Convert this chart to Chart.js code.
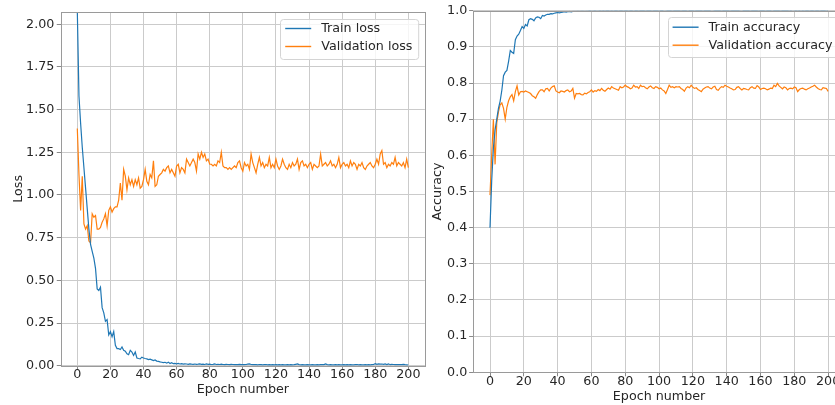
<!DOCTYPE html>
<html>
<head>
<meta charset="utf-8">
<script src="https://cdn.jsdelivr.net/npm/chart.js@4.4.1/dist/chart.umd.min.js"></script>
<style>
  html, body { margin: 0; padding: 0; background: #fff; }
  #wrap { position: relative; width: 835px; height: 405px; overflow: hidden; }
  #lossChart { position: absolute; left: 0; top: 0; }
  #accChart { position: absolute; left: 425px; top: 0; }
</style>
</head>
<body>
<div id="wrap">
  <canvas id="lossChart" width="430" height="405"></canvas>
  <canvas id="accChart" width="425" height="405"></canvas>
</div>
<script>
// values per epoch (0..200)
const trainLoss = [
  2.08, 1.58, 1.42, 1.28, 1.16, 1.04, 0.92, 0.80, 0.71, 0.67, 0.63,
  0.57, 0.45, 0.44, 0.46, 0.34, 0.31, 0.26, 0.27, 0.18, 0.20,
  0.17, 0.20, 0.12, 0.10, 0.10, 0.095, 0.11, 0.09, 0.085, 0.07,
  0.065, 0.09, 0.08, 0.06, 0.08, 0.045, 0.042, 0.04, 0.05, 0.045,
  0.042, 0.04, 0.036, 0.038, 0.034, 0.03, 0.034, 0.027, 0.025, 0.022,
  0.02, 0.018, 0.02, 0.015, 0.021, 0.013, 0.018, 0.012, 0.014, 0.011,
  0.013, 0.010, 0.012, 0.009, 0.011, 0.010, 0.008, 0.011, 0.009, 0.008,
  0.010, 0.008, 0.009, 0.011, 0.008, 0.009, 0.007, 0.010, 0.008, 0.009,
  0.007, 0.008, 0.010, 0.007, 0.008, 0.007, 0.009, 0.007, 0.006, 0.008,
  0.007, 0.006, 0.008, 0.007, 0.006, 0.007, 0.006, 0.008, 0.006, 0.007,
  0.006, 0.007, 0.009, 0.011, 0.007, 0.006, 0.007, 0.006, 0.005, 0.007,
  0.006, 0.005, 0.006, 0.007, 0.005, 0.006, 0.005, 0.006, 0.005, 0.006,
  0.005, 0.006, 0.005, 0.006, 0.005, 0.005, 0.006, 0.005, 0.006, 0.005,
  0.006, 0.008, 0.010, 0.006, 0.005, 0.006, 0.005, 0.005, 0.006, 0.005,
  0.005, 0.006, 0.005, 0.005, 0.006, 0.005, 0.006, 0.007, 0.006, 0.010,
  0.006, 0.005, 0.006, 0.005, 0.005, 0.006, 0.005, 0.006, 0.005, 0.005,
  0.006, 0.005, 0.006, 0.005, 0.006, 0.005, 0.005, 0.006, 0.007, 0.005,
  0.006, 0.005, 0.005, 0.006, 0.005, 0.006, 0.005, 0.006, 0.007, 0.012,
  0.008, 0.011, 0.009, 0.010, 0.008, 0.010, 0.007, 0.011, 0.006, 0.008,
  0.007, 0.006, 0.007, 0.006, 0.007, 0.006, 0.008, 0.006, 0.005, 0.004
];
const valLoss = [
  1.39, 1.12, 0.91, 1.11, 0.83, 0.80, 0.82, 0.73, 0.72, 0.89, 0.87,
  0.88, 0.80, 0.80, 0.81, 0.84, 0.86, 0.89, 0.82, 0.91, 0.93,
  0.90, 0.92, 0.93, 0.93, 0.97, 1.07, 0.97, 1.15, 1.11, 1.03,
  1.10, 1.06, 1.09, 1.05, 1.09, 1.06, 1.10, 1.04, 1.05, 1.09,
  1.15, 1.08, 1.06, 1.12, 1.10, 1.20, 1.05, 1.06, 1.11, 1.12,
  1.13, 1.15, 1.14, 1.16, 1.17, 1.13, 1.15, 1.13, 1.11, 1.17,
  1.18, 1.13, 1.16, 1.15, 1.13, 1.21, 1.19, 1.17, 1.19, 1.21,
  1.19, 1.14, 1.24, 1.21, 1.25, 1.22, 1.24, 1.20, 1.21, 1.18,
  1.18, 1.17, 1.18, 1.17, 1.20, 1.19, 1.25, 1.17, 1.16, 1.16,
  1.15, 1.16, 1.15, 1.16, 1.17, 1.16, 1.19, 1.20, 1.16, 1.14,
  1.19, 1.17, 1.18, 1.15, 1.24, 1.19, 1.16, 1.13, 1.18, 1.22,
  1.17, 1.19, 1.16, 1.18, 1.17, 1.22, 1.16, 1.18, 1.16, 1.21,
  1.17, 1.15, 1.17, 1.21, 1.18, 1.16, 1.15, 1.18, 1.16, 1.19,
  1.17, 1.18, 1.21, 1.15, 1.19, 1.20, 1.17, 1.18, 1.16, 1.18,
  1.19, 1.15, 1.18, 1.17, 1.16, 1.17, 1.24, 1.17, 1.18, 1.19,
  1.17, 1.18, 1.20, 1.17, 1.18, 1.16, 1.18, 1.22, 1.16, 1.18,
  1.19, 1.17, 1.18, 1.16, 1.20, 1.17, 1.19, 1.18, 1.15, 1.18,
  1.17, 1.19, 1.16, 1.15, 1.17, 1.18, 1.19, 1.17, 1.16, 1.18,
  1.21, 1.18, 1.24, 1.26, 1.18, 1.19, 1.16, 1.18, 1.17, 1.19,
  1.18, 1.22, 1.17, 1.19, 1.18, 1.17, 1.19, 1.16, 1.21, 1.16
];
const trainAcc = [
  0.40, 0.53, 0.62, 0.67, 0.70, 0.73, 0.75, 0.78, 0.82, 0.83, 0.835,
  0.86, 0.89, 0.885, 0.882, 0.92, 0.93, 0.935, 0.945, 0.956, 0.951,
  0.962, 0.958, 0.975, 0.978, 0.976, 0.972, 0.98, 0.983, 0.982, 0.978,
  0.987, 0.985, 0.988, 0.99, 0.99, 0.992, 0.991, 0.993, 0.994, 0.995,
  0.994, 0.995, 0.996, 0.997, 0.996, 0.997, 0.998, 0.997, 0.998, 0.998,
  0.998, 0.999, 0.998, 0.999, 0.999, 0.998, 0.999, 0.999, 1.0, 0.999,
  0.999, 1.0, 0.999, 0.999, 1.0, 0.999, 1.0, 0.999, 1.0, 1.0,
  0.999, 1.0, 0.999, 1.0, 1.0, 0.999, 1.0, 1.0, 0.999, 1.0,
  1.0, 0.999, 1.0, 1.0, 0.998, 1.0, 1.0, 0.999, 1.0, 1.0,
  1.0, 0.999, 1.0, 1.0, 1.0, 0.999, 1.0, 1.0, 1.0, 0.999,
  1.0, 1.0, 0.998, 0.999, 1.0, 1.0, 1.0, 0.999, 1.0, 1.0,
  1.0, 1.0, 0.999, 1.0, 1.0, 1.0, 0.998, 1.0, 1.0, 1.0,
  0.999, 1.0, 1.0, 1.0, 1.0, 0.999, 1.0, 1.0, 1.0, 1.0,
  0.998, 0.999, 1.0, 1.0, 1.0, 1.0, 0.999, 1.0, 1.0, 1.0,
  1.0, 0.999, 1.0, 1.0, 1.0, 1.0, 1.0, 0.999, 0.998, 1.0,
  1.0, 1.0, 1.0, 0.999, 1.0, 1.0, 1.0, 1.0, 0.999, 1.0,
  1.0, 1.0, 0.999, 1.0, 1.0, 1.0, 0.998, 1.0, 1.0, 1.0,
  1.0, 0.999, 1.0, 1.0, 1.0, 1.0, 0.999, 1.0, 0.998, 0.999,
  1.0, 0.999, 1.0, 0.998, 1.0, 0.999, 1.0, 1.0, 0.999, 1.0,
  1.0, 0.999, 1.0, 1.0, 0.999, 1.0, 1.0, 1.0, 0.999, 1.0
];
const valAcc = [
  0.49, 0.60, 0.70, 0.575, 0.69, 0.72, 0.74, 0.745, 0.73, 0.70, 0.733,
  0.751, 0.762, 0.768, 0.751, 0.776, 0.792, 0.767, 0.776, 0.777, 0.775,
  0.778, 0.776, 0.774, 0.771, 0.765, 0.762, 0.758, 0.768, 0.776, 0.781,
  0.781, 0.776, 0.784, 0.785, 0.778, 0.786, 0.79, 0.792, 0.778, 0.775,
  0.773, 0.778, 0.777, 0.775, 0.779, 0.781, 0.776, 0.778, 0.785, 0.758,
  0.771, 0.77, 0.771, 0.768, 0.767, 0.772, 0.77, 0.774, 0.776, 0.781,
  0.775, 0.779, 0.777, 0.782, 0.779, 0.785, 0.78, 0.777, 0.782, 0.786,
  0.783, 0.79, 0.786, 0.784, 0.782, 0.78, 0.79, 0.787, 0.789, 0.794,
  0.79, 0.788, 0.784, 0.786, 0.794, 0.789, 0.79, 0.785, 0.794, 0.79,
  0.791, 0.787, 0.784, 0.789, 0.792, 0.787, 0.785, 0.79, 0.788, 0.784,
  0.786, 0.781, 0.778, 0.771, 0.782, 0.794, 0.788, 0.79, 0.787, 0.79,
  0.789, 0.79, 0.785, 0.782, 0.777, 0.786, 0.79, 0.787, 0.794, 0.788,
  0.785, 0.787, 0.782, 0.779, 0.776, 0.783, 0.786, 0.789, 0.79, 0.786,
  0.784, 0.789, 0.791, 0.782, 0.78, 0.786, 0.79, 0.788, 0.794, 0.791,
  0.789, 0.786, 0.784, 0.781, 0.782, 0.788, 0.79, 0.785, 0.781, 0.785,
  0.784, 0.782, 0.781, 0.787, 0.79, 0.786, 0.785, 0.793, 0.789, 0.782,
  0.785, 0.786, 0.784, 0.781, 0.783, 0.786, 0.785, 0.794, 0.79, 0.799,
  0.792, 0.788, 0.784, 0.789, 0.787, 0.781, 0.785, 0.786, 0.784, 0.789,
  0.787, 0.776, 0.782, 0.785, 0.786, 0.783, 0.781, 0.784, 0.786, 0.789,
  0.791, 0.794, 0.789, 0.785, 0.782, 0.781, 0.787, 0.786, 0.785, 0.777
];

const epochTicks = [0, 20, 40, 60, 80, 100, 120, 140, 160, 180, 200];
const lossTicks = [0, 0.25, 0.5, 0.75, 1.0, 1.25, 1.5, 1.75, 2.0];
const accTicks = [0, 0.1, 0.2, 0.3, 0.4, 0.5, 0.6, 0.7, 0.8, 0.9, 1.0];

const BLUE = '#1f77b4';
const ORANGE = '#ff7f0e';
const TEXT = '#262626';
const FONT = 'DejaVu Sans';
const FS = 12.7;

Chart.defaults.font.family = FONT;
Chart.defaults.font.size = FS;
Chart.defaults.color = TEXT;

const toPoints = vals => vals.map((v, i) => ({ x: i, y: v }));

// matplotlib-like frame around the plot area
const frame = {
  id: 'frame',
  afterDatasetsDraw(chart) {
    const { ctx, chartArea: a } = chart;
    const l = Math.round(a.left) + 0.5, t = Math.round(a.top) + 0.5;
    const r = Math.round(a.right) + 0.5, b = Math.round(a.bottom) + 0.5;
    ctx.save();
    ctx.strokeStyle = '#9a9a9a';
    ctx.lineWidth = 1;
    ctx.strokeRect(l, t, r - l, b - t);
    ctx.restore();
  }
};

// boxed legend in the upper right corner of the plot area
const boxLegend = {
  id: 'boxLegend',
  afterDraw(chart) {
    const { ctx, chartArea: a } = chart;
    const sets = chart.data.datasets;
    ctx.save();
    ctx.font = FS + 'px "' + FONT + '"';
    const textW = Math.max(...sets.map(d => ctx.measureText(d.label).width));
    const w = 5 + 26 + 10 + textW + 6;
    const h = 40;
    const x = a.right - 6.5 - w;
    const y = a.top + 6.5;
    ctx.beginPath();
    ctx.roundRect(Math.round(x) + 0.5, Math.round(y) + 0.5, w, h, 3);
    ctx.fillStyle = 'rgba(255,255,255,0.8)';
    ctx.fill();
    ctx.strokeStyle = '#d4d4d4';
    ctx.lineWidth = 1;
    ctx.stroke();
    sets.forEach((d, i) => {
      const cy = y + 10 + i * 18;
      ctx.strokeStyle = d.borderColor;
      ctx.lineWidth = 1.4;
      ctx.beginPath();
      ctx.moveTo(x + 5, cy);
      ctx.lineTo(x + 31, cy);
      ctx.stroke();
      ctx.fillStyle = TEXT;
      ctx.textBaseline = 'middle';
      ctx.textAlign = 'left';
      ctx.fillText(d.label, x + 41, cy);
    });
    ctx.restore();
  }
};

function makeChart(id, cfg) {
  const ctx = document.getElementById(id).getContext('2d');
  return new Chart(ctx, {
    type: 'line',
    data: {
      datasets: [
        { label: cfg.labels[0], data: toPoints(cfg.train), borderColor: BLUE, backgroundColor: BLUE },
        { label: cfg.labels[1], data: toPoints(cfg.val), borderColor: ORANGE, backgroundColor: ORANGE }
      ]
    },
    options: {
      responsive: false,
      animation: false,
      devicePixelRatio: 1,
      elements: {
        point: { radius: 0 },
        line: { borderWidth: 1.2, tension: 0 }
      },
      layout: { padding: { top: cfg.padTop, right: cfg.padRight, left: 0, bottom: 0 } },
      plugins: { legend: { display: false }, tooltip: { enabled: false } },
      scales: {
        x: {
          type: 'linear',
          min: -10,
          max: 210,
          afterBuildTicks: s => { s.ticks = epochTicks.map(v => ({ value: v })); },
          afterFit: s => { s.height = cfg.xHeight; },
          border: { display: false },
          grid: { color: '#cbcbcb', lineWidth: 1, drawTicks: true, tickLength: 4, tickColor: '#8a8a8a' },
          ticks: { autoSkip: false, maxRotation: 0, padding: 0, color: TEXT,
                   font: { size: FS, lineHeight: 0.82 }, callback: v => String(v) },
          title: { display: true, text: 'Epoch number', color: TEXT, font: { size: FS },
                   padding: { top: 0, bottom: cfg.xTitlePad } }
        },
        y: {
          type: 'linear',
          min: 0,
          max: cfg.yMax,
          afterBuildTicks: s => { s.ticks = cfg.yTicks.map(v => ({ value: v })); },
          afterFit: s => { s.width = cfg.yWidth; },
          border: { display: false },
          grid: { color: '#cbcbcb', lineWidth: 1, drawTicks: true, tickLength: 4, tickColor: '#8a8a8a' },
          ticks: { autoSkip: false, padding: cfg.yTickPad, color: TEXT,
                   callback: v => v.toFixed(cfg.digits) },
          title: { display: true, text: cfg.yTitle, color: TEXT, font: { size: FS },
                   padding: { top: cfg.yTitlePad, bottom: 0 } }
        }
      }
    },
    plugins: [frame, boxLegend]
  });
}

makeChart('lossChart', {
  labels: ['Train loss', 'Validation loss'],
  train: trainLoss, val: valLoss,
  yTicks: lossTicks, yMax: 2.072, digits: 2, yTitle: 'Loss',
  padTop: 12, padRight: 5.1, yWidth: 60.75, xHeight: 39.3,
  yTickPad: 2.4, yTitlePad: 11, xTitlePad: 7.8
});

makeChart('accChart', {
  labels: ['Train accuracy', 'Validation accuracy'],
  train: trainAcc, val: valAcc,
  yTicks: accTicks, yMax: 1.0, digits: 1, yTitle: 'Accuracy',
  padTop: 10.7, padRight: 5, yWidth: 48.1, xHeight: 32.7,
  yTickPad: 1.8, yTitlePad: 5, xTitlePad: 0.8
});
</script>
</body>
</html>
